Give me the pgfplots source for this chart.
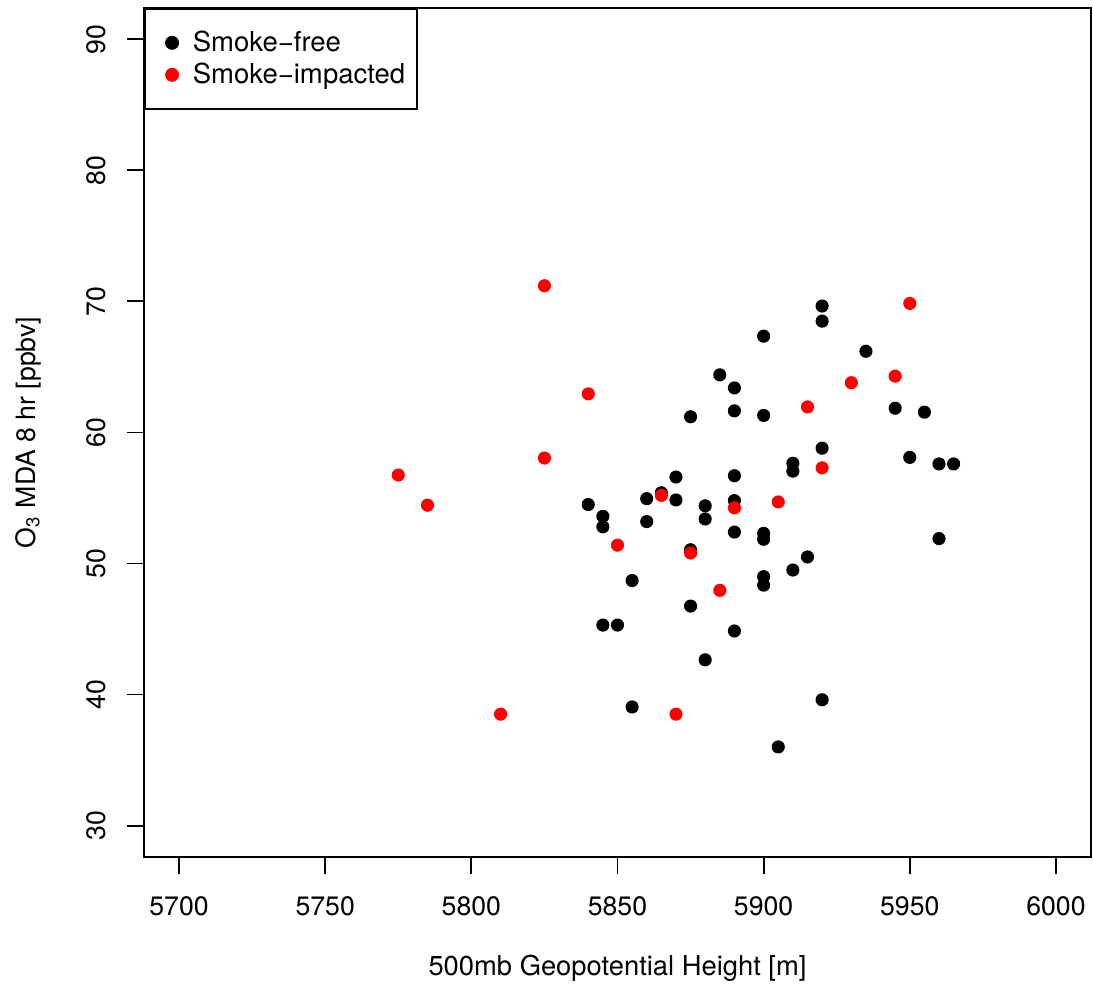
\documentclass[border=0pt]{standalone}
\usepackage{fontspec}
\setmainfont{TeX Gyre Heros}
\usepackage{pgfplots}
\usepackage{pgfplotstable}
\pgfplotsset{compat=1.18}

% 500 mb height [m] vs. O3 MDA8 [ppbv]
\pgfplotstableread{
x y
5840 54.5
5845 53.6
5845 52.8
5845 45.3
5850 45.3
5855 48.7
5855 39.05
5860 54.95
5860 53.2
5865 55.4
5870 56.6
5870 54.85
5875 61.2
5875 51.05
5875 46.75
5880 54.4
5880 53.4
5880 42.65
5885 64.4
5890 63.4
5890 61.65
5890 56.7
5890 54.8
5890 52.4
5890 44.85
5900 67.35
5900 61.3
5900 52.3
5900 51.85
5900 49.0
5900 48.35
5905 36.0
5910 57.65
5910 57.05
5910 49.5
5915 50.5
5920 69.65
5920 68.5
5920 58.8
5920 39.6
5935 66.2
5945 61.85
5950 58.1
5955 61.55
5960 57.6
5960 51.9
5965 57.6
}\smokefree

\pgfplotstableread{
x y
5775 56.75
5785 54.45
5810 38.5
5825 71.2
5825 58.05
5840 62.95
5850 51.4
5865 55.2
5870 38.5
5875 50.8
5885 47.95
5890 54.25
5905 54.7
5915 61.95
5920 57.3
5930 63.8
5945 64.3
5950 69.85
}\smokeimpacted

\begin{document}
\begin{tikzpicture}[font=\fontsize{9.6pt}{11.5pt}\selectfont]
\begin{axis}[
  scale only axis,
  width=340.92pt, height=305.64pt,
  xmin=5688, xmax=6012, ymin=27.6, ymax=92.4,
  axis line style={line width=0.7pt},
  xtick={5700,5750,5800,5850,5900,5950,6000},
  xticklabels={5700,5750,5800,5850,5900,5950,6000},
  ytick={30,40,50,60,70,80,90},
  yticklabels={30,40,50,60,70,80,90},
  tick align=outside, tick pos=left,
  major tick length=6pt,
  every tick/.style={black, line width=0.7pt},
  xticklabel style={anchor=base, inner sep=0pt},
  xticklabel shift=15.2pt,
  yticklabel style={rotate=90, anchor=base, inner sep=0pt},
  yticklabel shift=8pt,
  xlabel={500mb Geopotential Height [m]},
  xlabel style={at={([yshift=-42.7pt]axis description cs:0.5,0)}, anchor=base, inner sep=0pt,
    font=\fontsize{9.85pt}{11.5pt}\selectfont},
  ylabel={O\textsubscript{3} MDA 8 hr [ppbv]},
  ylabel style={at={([xshift=-39.2pt]axis description cs:0,0.5)}, anchor=base, inner sep=0pt,
    font=\fontsize{9.6pt}{11.5pt}\selectfont},
  legend cell align=left,
  legend style={at={(0,1)}, anchor=north west, draw=black, line width=0.7pt,
    inner xsep=4.3pt, inner ysep=6.45pt, column sep=5.3pt, row sep=0pt,
    nodes={inner sep=0pt, text height=8.8pt, text depth=2.7pt},
    font=\fontsize{9.9pt}{11.5pt}\selectfont},
  legend image code/.code={\path (-5.1pt,0pt); \draw[#1,only marks] plot coordinates {(0pt,0pt)};},
]
\coordinate (SW) at (rel axis cs:0,0);
\coordinate (NE) at (rel axis cs:1,1);
\addplot[only marks, mark=*, mark size=2.16pt, color=black] table {\smokefree};
\addlegendentry{Smoke−free}
\addplot[only marks, mark=*, mark size=2.16pt, color=red] table {\smokeimpacted};
\addlegendentry{Smoke−impacted}
\end{axis}
\pgfresetboundingbox
\path ([shift={(-51.84pt,-48.96pt)}]SW) rectangle ([shift={(0.72pt,2.88pt)}]NE);
\end{tikzpicture}
\end{document}
